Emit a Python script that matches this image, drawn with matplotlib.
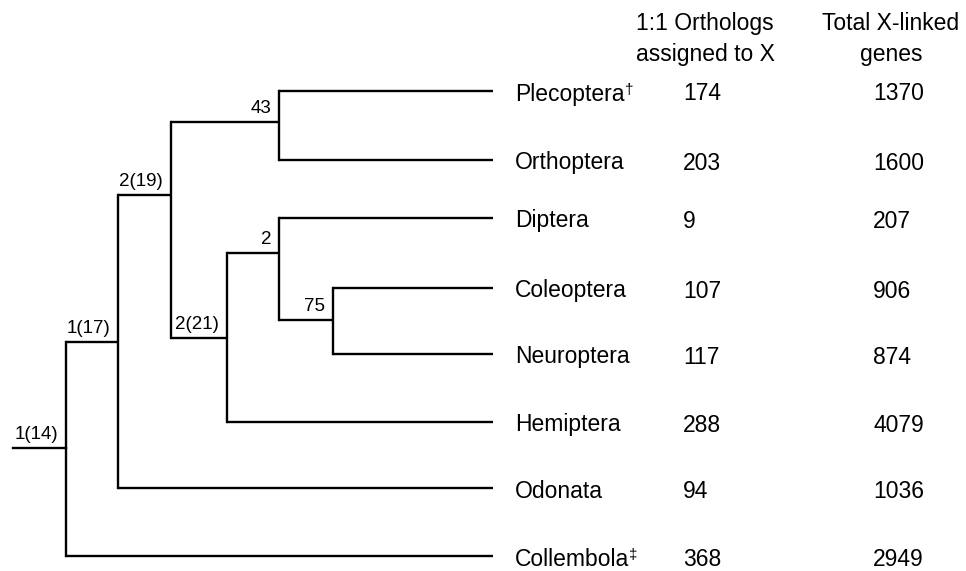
import matplotlib
matplotlib.use('Agg')
import matplotlib.pyplot as plt

plt.rcParams['font.family'] = ['Liberation Sans', 'DejaVu Sans']

# leaves (top to bottom) and the two value columns
leaves = ['Plecoptera', 'Orthoptera', 'Diptera', 'Coleoptera',
          'Neuroptera', 'Hemiptera', 'Odonata', 'Collembola']
leaf_marks = ['†', '', '', '', '', '', '', '‡']
orthologs = [174, 203, 9, 107, 117, 288, 94, 368]
total_x = [1370, 1600, 207, 906, 874, 4079, 1036, 2949]
leaf_y = [91, 160, 218, 288, 354, 422, 488, 556]
leaf_x = 493

# internal nodes of the tree
node_names = ['root', 'n17', 'n19', 'n43', 'n21', 'n2', 'n75']
node_labels = ['1(14)', '1(17)', '2(19)', '43', '2(21)', '2', '75']
node_x = [66, 118, 171, 279, 227, 279, 333]
node_y = [448, 342, 195, 122, 338, 253, 320]
node_children = [['n17', 'Collembola'],
                 ['n19', 'Odonata'],
                 ['n43', 'n21'],
                 ['Plecoptera', 'Orthoptera'],
                 ['n2', 'Hemiptera'],
                 ['Diptera', 'n75'],
                 ['Coleoptera', 'Neuroptera']]
root_stem_x = 13

headers = ['1:1 Orthologs\nassigned to X', 'Total X-linked\ngenes']

pos = {}
for name, y in zip(leaves, leaf_y):
    pos[name] = (leaf_x, y)
for name, x, y in zip(node_names, node_x, node_y):
    pos[name] = (x, y)

fig = plt.figure(figsize=(9.66, 5.71), dpi=100)
ax = fig.add_axes([0, 0, 1, 1])
ax.set_xlim(0, 966)
ax.set_ylim(571, 0)
ax.axis('off')

lw = 1.7
for name, kids in zip(node_names, node_children):
    x, y = pos[name]
    ys = [pos[k][1] for k in kids]
    ax.plot([x, x], [min(ys), max(ys)], color='black', lw=lw, solid_capstyle='projecting')
    for k in kids:
        kx, ky = pos[k]
        ax.plot([x, kx], [ky, ky], color='black', lw=lw, solid_capstyle='butt')

# root stem
rx, ry = pos['root']
ax.plot([root_stem_x, rx], [ry, ry], color='black', lw=lw)

# node labels
for name, lab in zip(node_names, node_labels):
    x, y = pos[name]
    ax.text(x - 8, y - 5, lab, ha='right', va='bottom', fontsize=13.5)

# leaf labels and values
renderer = fig.canvas.get_renderer()
for name, mark, y, o, t in zip(leaves, leaf_marks, leaf_y, orthologs, total_x):
    txt = ax.text(515, y + 3, name, ha='left', va='center', fontsize=16.5)
    if mark:
        bb = txt.get_window_extent(renderer=renderer).transformed(ax.transData.inverted())
        ax.text(bb.x1, y - 1, mark, ha='left', va='center', fontsize=11)
    ax.text(683, y + 3, str(o), ha='left', va='center', fontsize=16.5)
    ax.text(873, y + 3, str(t), ha='left', va='center', fontsize=16.5)

ax.text(705, 39, headers[0], ha='center', va='center', fontsize=16.5, linespacing=1.4)
ax.text(891, 39, headers[1], ha='center', va='center', fontsize=16.5, linespacing=1.4)

fig.savefig('out.png', dpi=100)
